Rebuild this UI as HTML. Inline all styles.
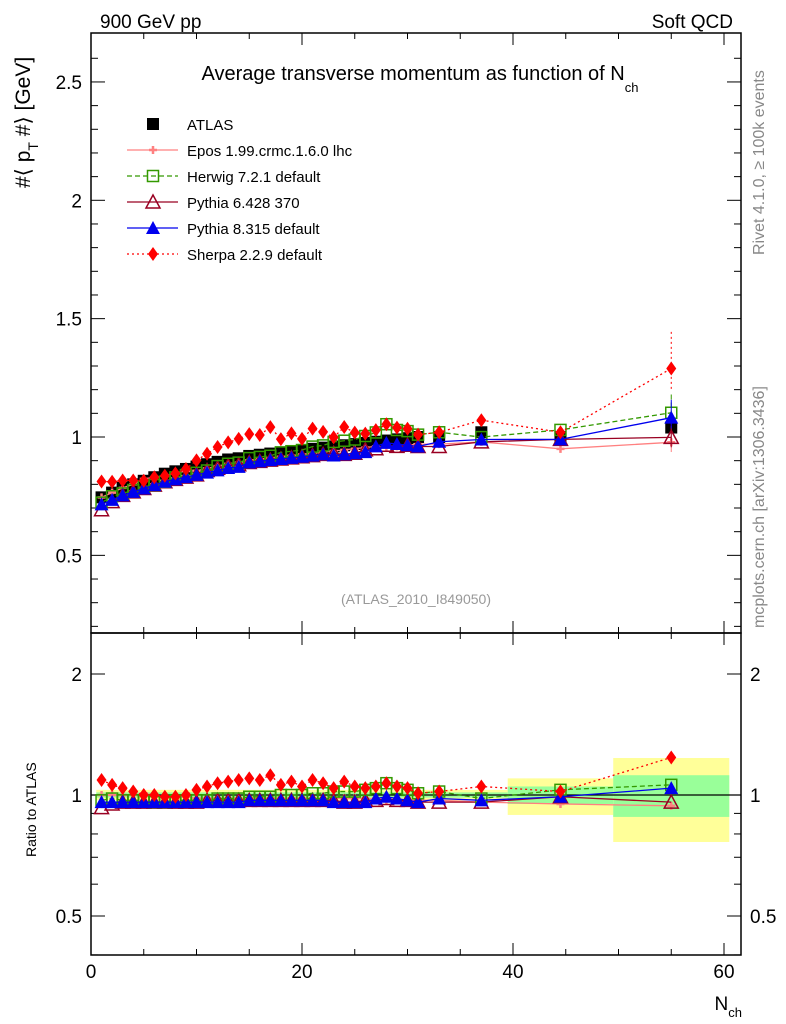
<!DOCTYPE html>
<html><head><meta charset="utf-8"><style>
body{margin:0;background:#fff}
svg{display:block;font-family:"Liberation Sans",sans-serif}
</style></head><body>
<svg id="chart" width="786" height="1024" viewBox="0 0 786 1024" xmlns="http://www.w3.org/2000/svg">
<text x="100" y="28" font-size="19">900 GeV pp</text>
<text x="733" y="28" font-size="19" text-anchor="end">Soft QCD</text>
<text x="420" y="80" font-size="20" text-anchor="middle">Average transverse momentum as function of N<tspan font-size="13" dy="12">ch</tspan></text>
<text transform="translate(30,188) rotate(-90)" font-size="21">#⟨ p<tspan font-size="14" dy="8">T</tspan><tspan dy="-8"> #⟩ [GeV]</tspan></text>
<text transform="translate(36,857) rotate(-90)" font-size="14">Ratio to ATLAS</text>
<text x="742" y="1010" font-size="19" text-anchor="end">N<tspan font-size="13" dy="7">ch</tspan></text>
<text transform="translate(764,255) rotate(-90)" font-size="16" fill="#888">Rivet 4.1.0, ≥ 100k events</text>
<text transform="translate(764,628) rotate(-90)" font-size="16" fill="#888">mcplots.cern.ch [arXiv:1306.3436]</text>
<text x="416" y="604" font-size="14" fill="#999" text-anchor="middle">(ATLAS_2010_I849050)</text>
<g id="bands"></g><g id="axes"></g><g id="series"></g><g id="legend"></g>
</svg>
<script>
const xs=[1,2,3,4,5,6,7,8,9,10,11,12,13,14,15,16,17,18,19,20,21,22,23,24,25,26,27,28,29,30,31,33,37,44.5,55];
const atlas=[0.745,0.765,0.785,0.80,0.815,0.83,0.845,0.855,0.865,0.875,0.885,0.895,0.905,0.91,0.92,0.925,0.93,0.935,0.94,0.945,0.95,0.955,0.96,0.965,0.97,0.975,0.98,0.985,0.99,0.995,1.0,1.0,1.02,1.0,1.04];
const eposR=[1.0,1.0,1.0,1.0,1.01,1.0,0.99,0.99,0.99,0.98,0.98,0.98,0.98,0.98,0.98,0.98,0.98,0.98,0.98,0.98,0.98,0.98,0.98,0.98,0.98,0.98,0.98,0.97,0.97,0.97,0.97,0.97,0.96,0.95,0.94];
const herwigR=[0.97,0.98,0.97,0.97,0.97,0.96,0.96,0.97,0.97,0.97,0.97,0.98,0.98,0.98,0.99,0.99,0.99,1.0,1.0,1.0,1.01,1.01,1.02,1.02,1.02,1.03,1.04,1.07,1.04,1.03,1.01,1.02,0.98,1.03,1.06];
const py6R=[0.93,0.95,0.96,0.96,0.96,0.96,0.96,0.96,0.96,0.96,0.97,0.97,0.97,0.97,0.97,0.97,0.97,0.97,0.97,0.97,0.97,0.97,0.97,0.96,0.96,0.97,0.97,0.98,0.97,0.97,0.96,0.96,0.96,0.99,0.96];
const py8R=[0.96,0.96,0.96,0.96,0.96,0.96,0.96,0.96,0.96,0.96,0.96,0.96,0.96,0.96,0.97,0.97,0.97,0.97,0.97,0.97,0.97,0.97,0.96,0.96,0.96,0.96,0.98,0.99,0.98,0.97,0.96,0.98,0.97,0.99,1.04];
const sherpaR=[1.09,1.06,1.04,1.02,1.0,1.0,0.99,0.99,1.0,1.03,1.05,1.07,1.08,1.09,1.10,1.09,1.12,1.06,1.08,1.05,1.09,1.07,1.04,1.08,1.05,1.04,1.05,1.07,1.05,1.04,1.01,1.02,1.05,1.02,1.24];
const bandEdges=[39.5,49.5,60.5];
const bandYellowHi=[1.10,1.236];
const bandYellowLo=[0.892,0.764];
const bandGreenHi=[1.05,1.12];
const bandGreenLo=[0.95,0.882];
const xTicks=[0,20,40,60];
const yTicks=[0.5,1,1.5,2,2.5];
const rTicks=[0.5,1,2];

const NS="http://www.w3.org/2000/svg";
const L=91,R=741,T=33,M=633,B=955;
const X=v=>91+v*10.55;
const Y=v=>437-(v-1)*236.7;
const RY=r=>795-Math.log2(r)*121;
function el(tag,attrs,parent){const e=document.createElementNS(NS,tag);for(const k in attrs)e.setAttribute(k,attrs[k]);parent.appendChild(e);return e;}
const bands=document.getElementById('bands'),axes=document.getElementById('axes'),ser=document.getElementById('series'),leg=document.getElementById('legend');

{const b=el('rect',{x:X(0.5),y:RY(1.03),width:X(39.5)-X(0.5),height:RY(0.97)-RY(1.03),fill:'#ffff99'},bands);


const g=el('rect',{x:X(0.5),y:RY(1.015),width:X(39.5)-X(0.5),height:RY(0.985)-RY(1.015),fill:'#99ff99'},bands);

}
for(let i=0;i<bandEdges.length-1;i++){
  const x1=X(bandEdges[i]),x2=X(bandEdges[i+1]);
  const y=el('rect',{x:x1,y:RY(bandYellowHi[i]),width:x2-x1,height:RY(bandYellowLo[i])-RY(bandYellowHi[i]),fill:'#ffff99'},bands);
  
  
  const g=el('rect',{x:x1,y:RY(bandGreenHi[i]),width:x2-x1,height:RY(bandGreenLo[i])-RY(bandGreenHi[i]),fill:'#99ff99'},bands);
  
  
}

for(const [y1,y2,n] of [[T,M,'main-frame'],[M,B,'ratio-frame']]){
  const f=el('rect',{x:L,y:y1,width:R-L,height:y2-y1,fill:'none',stroke:'#000','stroke-width':1.5},axes);
  
  
}
el('line',{x1:L,x2:R,y1:RY(1),y2:RY(1),stroke:'#000','stroke-width':1.2},axes);
for(let v=0;v<=60;v+=5){
  const maj=v%20==0,len=maj?12:6;
  for(const yb of [T,M]) el('line',{x1:X(v),x2:X(v),y1:yb,y2:yb+len,stroke:'#000'},axes);
  for(const yb of [M,B]) el('line',{x1:X(v),x2:X(v),y1:yb,y2:yb-len,stroke:'#000'},axes);
}
xTicks.forEach(v=>{const t=el('text',{x:X(v),y:978,'font-size':19,'text-anchor':'middle'},axes);t.textContent=v;

});
for(let v=0.2;v<=2.7;v+=0.1){const vv=Math.round(v*10)/10;const maj=Math.abs(vv*2-Math.round(vv*2))<1e-6;const len=maj?14:7;
  el('line',{x1:L,x2:L+len,y1:Y(vv),y2:Y(vv),stroke:'#000'},axes);el('line',{x1:R,x2:R-len,y1:Y(vv),y2:Y(vv),stroke:'#000'},axes);}
yTicks.forEach(v=>{const t=el('text',{x:82,y:Y(v)+7,'font-size':19,'text-anchor':'end'},axes);t.textContent=v;

});
[0.4,0.5,0.6,0.7,0.8,0.9,1,2].forEach(v=>{const maj=rTicks.includes(v);const len=maj?14:7;
  el('line',{x1:L,x2:L+len,y1:RY(v),y2:RY(v),stroke:'#000'},axes);el('line',{x1:R,x2:R-len,y1:RY(v),y2:RY(v),stroke:'#000'},axes);});
rTicks.forEach(v=>{for(const [x,a] of [[82,'end'],[750,'start']]){const t=el('text',{x:x,y:RY(v)+7,'font-size':19,'text-anchor':a},axes);t.textContent=v;

}});

function marker(kind,x,y,color,p){
  if(kind=='sq') return el('rect',{x:x-6,y:y-6,width:12,height:12,fill:'#000'},p);
  if(kind=='osq') return el('rect',{x:x-5.5,y:y-5.5,width:11,height:11,fill:'none',stroke:color,'stroke-width':1.5},p);
  if(kind=='otri') return el('path',{d:`M${x} ${y-7}L${x+7} ${y+6}L${x-7} ${y+6}Z`,fill:'none',stroke:color,'stroke-width':1.5},p);
  if(kind=='tri') return el('path',{d:`M${x} ${y-7}L${x+7} ${y+6}L${x-7} ${y+6}Z`,fill:color},p);
  if(kind=='dia') return el('path',{d:`M${x} ${y-7}L${x+5} ${y}L${x} ${y+7}L${x-5} ${y}Z`,fill:color},p);
  if(kind=='cross') return el('path',{d:`M${x-4} ${y}H${x+4}M${x} ${y-4}V${y+4}`,stroke:color,'stroke-width':2.5},p);
}
const series=[
 {name:'ATLAS',r:null,color:'#000',m:'sq',dash:null,n:'atlas'},
 {name:'Epos 1.99.crmc.1.6.0 lhc',r:eposR,color:'#ff8080',m:'cross',dash:'',n:'epos'},
 {name:'Herwig 7.2.1 default',r:herwigR,color:'#339900',m:'osq',dash:'5,3',n:'herwig'},
 {name:'Pythia 6.428 370',r:py6R,color:'#990022',m:'otri',dash:'',n:'pythia6'},
 {name:'Pythia 8.315 default',r:py8R,color:'#0000ee',m:'tri',dash:'',n:'pythia8'},
 {name:'Sherpa 2.2.9 default',r:sherpaR,color:'#ff0000',m:'dia',dash:'2,3',n:'sherpa'}
];
const order=[0,1,3,2,4,5];
order.forEach(si=>{const s=series[si];
  const g=el('g',{},ser);
  
  
  const main=xs.map((x,i)=>[X(x),Y(s.r?atlas[i]*s.r[i]:atlas[i])]);
  const rat=xs.map((x,i)=>[X(x),RY(s.r?s.r[i]:1)]);
  if(s.r){
    for(const pts of [main,rat]){const l=el('polyline',{points:pts.map(p=>p.join(',')).join(' '),fill:'none',stroke:s.color,'stroke-width':1.3},g);if(s.dash)l.setAttribute('stroke-dasharray',s.dash);}
  }
  for(const pts of (s.r?[main,rat]:[main])) pts.forEach(p=>{const mk=marker(s.m,p[0],p[1],s.color,g);
    
    });
  if(s.r){const i=xs.length-1;const e=s.n=='sherpa'?0.12:0.07;
    el('line',{x1:X(55),x2:X(55),y1:Y(atlas[i]*s.r[i]*(1+e)),y2:Y(atlas[i]*s.r[i]*(1-e*0.6)),stroke:s.color,'stroke-dasharray':s.dash||''},g);}
});
order.forEach((si,k)=>{const s=series[si];const y=124+26*[0,1,3,2,4,5][k];
  const g=el('g',{},leg);
  
  
  if(s.r){const l=el('line',{x1:127,x2:178,y1:y,y2:y,stroke:s.color,'stroke-width':1.3},g);if(s.dash)l.setAttribute('stroke-dasharray',s.dash);}
  marker(s.m,153,y,s.color,g);
  const t=el('text',{x:187,y:y+6,'font-size':15},g);t.textContent=s.name;
});
</script>
</body></html>
